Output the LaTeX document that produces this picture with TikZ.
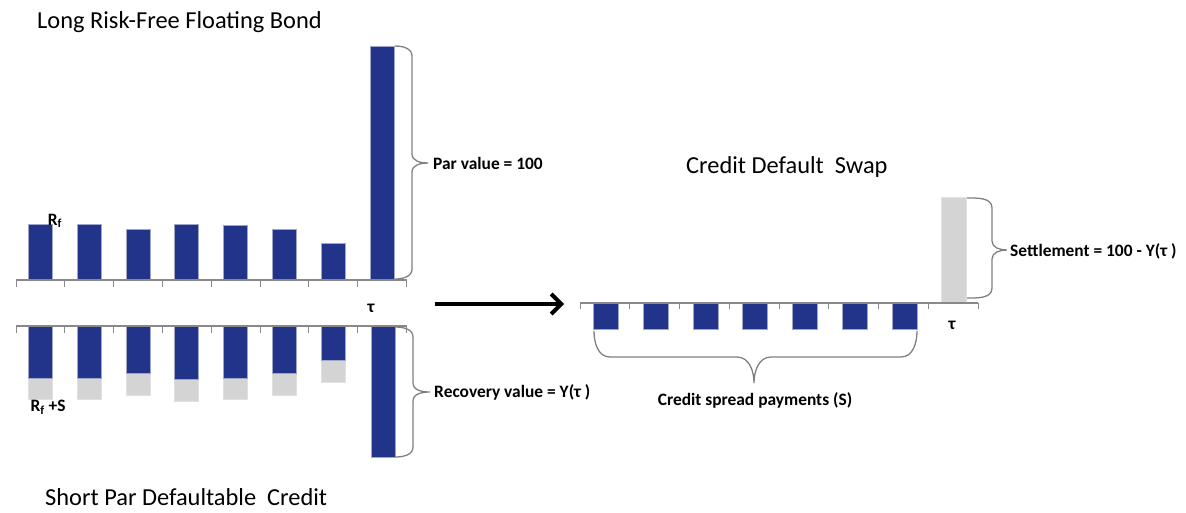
\documentclass[tikz,border=0pt]{standalone}
\usepackage{fontspec}
\setmainfont{Carlito}
\usetikzlibrary{arrows.meta}
\definecolor{barblue}{RGB}{34,51,138}
\definecolor{baredge}{RGB}{160,166,200}
\definecolor{bargrey}{RGB}{212,212,212}
\definecolor{greyedge}{RGB}{225,225,225}
\definecolor{axisgrey}{RGB}{137,137,137}
\definecolor{bracegrey}{RGB}{128,128,128}
\tikzset{
  bluebar/.style={fill=barblue, draw=baredge, line width=0.8pt},
  greybar/.style={fill=bargrey, draw=greyedge, line width=0.8pt},
  axisline/.style={draw=axisgrey, line width=1.5pt},
  tickline/.style={draw=axisgrey, line width=1pt},
  bracepath/.style={draw=bracegrey, line width=1.3pt},
  title/.style={font=\fontsize{24.4}{28}\selectfont, inner sep=0pt, anchor=base west},
  lab/.style={font=\bfseries\fontsize{17.4}{21}\selectfont, inner sep=0pt},
}
% vertical brace opening to the left: x0, top y, bottom y, stem x, tip x, tip y
\newcommand\BraceRight[6]{%
  \draw[bracepath] (#1,#2) to[out=0,in=90] (#4,#2+10) -- (#4,#6-9)
    to[out=-90,in=180] (#5,#6) to[out=180,in=90] (#4,#6+9)
    -- (#4,#3-10) to[out=-90,in=0] (#1,#3);}
\begin{document}
\begin{tikzpicture}[x=1pt,y=-1pt]
\useasboundingbox (0,0) rectangle (1186,512);

% ---------- long risk-free floating bond ----------
\foreach \i/\h in {0/224,1/224,2/229.5,3/224,4/225,5/229.5,6/243,7/46}{
  \pgfmathsetmacro\xc{16+48.83*\i+24.4}
  \draw[bluebar] (\xc-12,\h) rectangle (\xc+12,280);
}
\draw[axisline] (16,280) -- (407,280);
\foreach \i in {0,...,8}{
  \pgfmathsetmacro\xt{16+48.83*\i}
  \draw[tickline] (\xt,280) -- (\xt,287);
}
\node[lab] (rf) at (55,221) {R\textsubscript{f}};
\node[lab] (tau1) at (371,308) {τ};
\BraceRight{395}{46}{279}{412}{428}{163}
\node[lab, anchor=west] (par) at (433,163) {Par value = 100};

% ---------- short par defaultable credit ----------
\foreach \i/\b/\g in {0/378/399.5,1/378/399.5,2/373/395,3/379/401,4/378/399.5,5/373/395,6/360/382}{
  \pgfmathsetmacro\xc{16+48.83*\i+24.4}
  \draw[greybar] (\xc-12,\b) rectangle (\xc+12,\g);
  \draw[bluebar] (\xc-12,326) rectangle (\xc+12,\b);
}
\draw[bluebar] (371,326) rectangle (395,457);
\draw[axisline] (16,326) -- (407,326);
\foreach \i in {0,...,8}{
  \pgfmathsetmacro\xt{16+48.83*\i}
  \draw[tickline] (\xt,326) -- (\xt,333);
}
\node[lab] (rfs) at (48,407) {R\textsubscript{f} +S};
\BraceRight{395}{327}{457}{413}{430}{392}
\node[lab, anchor=west] (rec) at (434,392) {Recovery value = Y(τ )};

% ---------- arrow between the two sides ----------
\coordinate (arrA) at (435,304);
\coordinate (arrB) at (564,304);
\draw[line width=4pt, -{Straight Barb[length=10pt,width=20pt,line width=4pt]}] (arrA) -- (arrB);

% ---------- credit default swap ----------
\draw[greybar] (941,197) rectangle (966,303);
\foreach \i in {0,...,6}{
  \pgfmathsetmacro\xc{581+49.75*\i+25}
  \draw[bluebar] (\xc-12.5,303) rectangle (\xc+12.5,329.5);
}
\draw[axisline] (580,303) -- (978,303);
\foreach \i in {0,...,8}{
  \pgfmathsetmacro\xt{580+49.75*\i}
  \draw[tickline] (\xt,303) -- (\xt,309);
}
\node[lab] (tau2) at (952,325) {τ};
\BraceRight{967}{198}{298}{992}{1007}{250}
\node[lab, anchor=west] (settle) at (1010,251) {Settlement = 100 - Y(τ )};

% brace under the spread payments
\draw[bracepath] (594,331) to[out=-90,in=180] (610,357) -- (737,357)
  to[out=0,in=90] (754,383) to[out=90,in=180] (771,357) -- (901,357)
  to[out=0,in=-90] (917,331);
\node[lab] (spread) at (755,400) {Credit spread payments (S)};

% ---------- titles ----------
\node[title] (t1) at (37,28) {Long Risk-Free Floating Bond};
\node[title] (t2) at (686,173) {Credit Default\ \ Swap};
\node[title] (t3) at (45,505) {Short Par Defaultable\ \ Credit};
\end{tikzpicture}
\end{document}
